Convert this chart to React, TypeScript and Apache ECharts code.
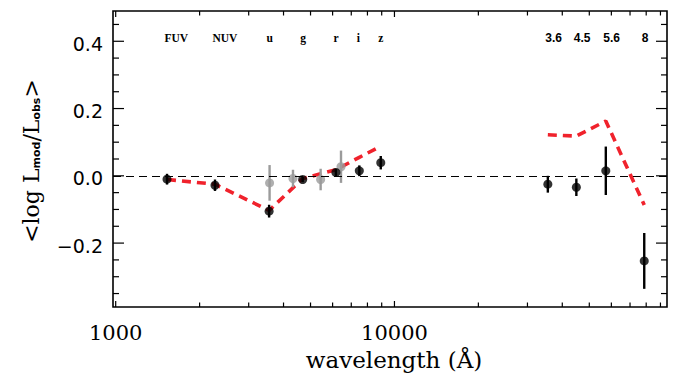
import React, { useEffect, useRef } from 'react';
import * as echarts from 'echarts';

// ---------- data ----------
const opticalBands = ['FUV', 'NUV', 'u', 'g', 'r', 'i', 'z'];
const opticalWave = [1528, 2271, 3551, 4686, 6165, 7481, 8931];
const opticalObs = [-0.010, -0.028, -0.105, -0.011, 0.010, 0.015, 0.039];
const opticalErr = [0.016, 0.017, 0.019, 0.008, 0.011, 0.016, 0.020];
const opticalModel = [-0.011, -0.025, -0.103, -0.008, 0.018, 0.055, 0.088];

const grayWave = [3565, 4325, 5435, 6431];
const grayObs = [-0.021, -0.008, -0.011, 0.027];
const grayErr = [0.053, 0.026, 0.032, 0.048];

const irBands = ['3.6', '4.5', '5.6', '8'];
const irWave = [35500, 44930, 57310, 78720];
const irObs = [-0.025, -0.034, 0.015, -0.253];
const irErr = [0.025, 0.026, 0.072, 0.083];
const irModel = [0.122, 0.118, 0.163, -0.087];

const xMajorTicks = [1000, 10000];
const xTickLabels = ['1000', '10000'];
const xMinorTicks = [2000, 3000, 4000, 5000, 6000, 7000, 8000, 9000, 20000, 30000, 40000, 50000, 60000, 70000, 80000, 90000];
const yMajorTicks = [-0.2, 0.0, 0.2, 0.4];
const yTickLabels = ['\u22120.2', '0.0', '0.2', '0.4'];
const yMinorTicks = [-0.35, -0.3, -0.25, -0.15, -0.1, -0.05, 0.05, 0.1, 0.15, 0.25, 0.3, 0.35, 0.45];

// ---------- axis config ----------
const X_MIN = 978;
const X_MAX = 95000;
const Y_MIN = -0.39;
const Y_MAX = 0.49;
const LABEL_Y = 0.4;

const RED = '#f0222c';
const GRAY = '#9b9b9b';
const SERIF = '"DejaVu Serif", serif';
const SANS = '"DejaVu Sans", sans-serif';

const xTickData = [
  ...xMajorTicks.map((v, i) => ({ v, major: true, label: xTickLabels[i] })),
  ...xMinorTicks.map((v) => ({ v, major: false, label: '' })),
];
const yTickData = [
  ...yMajorTicks.map((v, i) => ({ v, major: true, label: yTickLabels[i] })),
  ...yMinorTicks.map((v) => ({ v, major: false, label: '' })),
];
const bandLabels = [
  ...opticalBands.map((b, i) => ({ w: opticalWave[i], text: b, ir: false })),
  ...irBands.map((b, i) => ({ w: irWave[i], text: b, ir: true })),
];

const blackWave = [...opticalWave, ...irWave];
const blackObs = [...opticalObs, ...irObs];
const blackErr = [...opticalErr, ...irErr];

function errorSeries(name: string, wave: number[], obs: number[], err: number[], color: string) {
  return {
    name,
    type: 'custom',
    data: wave.map((w, i) => [w, obs[i], err[i]]),
    renderItem: (params: any, api: any) => {
      const w = api.value(0);
      const y = api.value(1);
      const e = api.value(2);
      const p1 = api.coord([w, y - e]);
      const p2 = api.coord([w, y + e]);
      return {
        type: 'line',
        shape: { x1: p1[0], y1: p1[1], x2: p2[0], y2: p2[1] },
        style: { stroke: color, lineWidth: 2.4 },
      };
    },
    silent: true,
  };
}

function buildOption() {
  return {
    animation: false,
    grid: {
      left: 113,
      right: 11,
      top: 11,
      bottom: 70,
      show: true,
      borderColor: '#000',
      borderWidth: 1.6,
      backgroundColor: 'transparent',
    },
    xAxis: {
      type: 'log',
      logBase: 10,
      min: X_MIN,
      max: X_MAX,
      axisLine: { show: false },
      axisTick: { show: false },
      axisLabel: { show: false },
      splitLine: { show: false },
    },
    yAxis: {
      type: 'value',
      min: Y_MIN,
      max: Y_MAX,
      axisLine: { show: false },
      axisTick: { show: false },
      axisLabel: { show: false },
      splitLine: { show: false },
    },
    graphic: [
      {
        type: 'text',
        x: 394,
        y: 360,
        style: {
          text: 'wavelength (\u00c5)',
          font: `23px ${SERIF}`,
          fill: '#000',
          align: 'center',
          verticalAlign: 'middle',
        },
      },
      {
        type: 'text',
        x: 29,
        y: 161,
        rotation: Math.PI / 2,
        style: {
          text: '{a|<log L}{s|mod}{a|/L}{s|obs}{a|>}',
          align: 'center',
          verticalAlign: 'middle',
          fill: '#000',
          rich: {
            a: { fontFamily: SERIF, fontSize: 22, fill: '#000', verticalAlign: 'bottom', lineHeight: 26 },
            s: { fontFamily: SANS, fontWeight: 'bold', fontSize: 11, fill: '#000', verticalAlign: 'bottom', lineHeight: 10 },
          },
        },
      },
    ],
    series: [
      {
        name: 'model optical',
        type: 'line',
        data: opticalWave.map((w, i) => [w, opticalModel[i]]),
        symbol: 'none',
        lineStyle: { color: RED, width: 3.6, type: [9, 6], cap: 'butt' },
        markLine: {
          silent: true,
          symbol: 'none',
          label: { show: false },
          lineStyle: { color: '#000', width: 1.2, type: [8, 5] },
          data: [{ yAxis: 0 }],
        },
        z: 2,
      },
      {
        name: 'model IR',
        type: 'line',
        data: irWave.map((w, i) => [w, irModel[i]]),
        symbol: 'none',
        lineStyle: { color: RED, width: 3.6, type: [9, 6], cap: 'butt' },
        z: 2,
      },
      { ...errorSeries('gray err', grayWave, grayObs, grayErr, GRAY), z: 3 },
      {
        name: 'gray obs',
        type: 'scatter',
        data: grayWave.map((w, i) => [w, grayObs[i]]),
        symbol: 'circle',
        symbolSize: 9,
        itemStyle: { color: GRAY },
        z: 3,
      },
      { ...errorSeries('black err', blackWave, blackObs, blackErr, '#000'), z: 4 },
      {
        name: 'black obs',
        type: 'scatter',
        data: blackWave.map((w, i) => [w, blackObs[i]]),
        symbol: 'circle',
        symbolSize: 9,
        itemStyle: { color: '#000' },
        z: 4,
      },
      {
        name: 'x ticks',
        type: 'custom',
        silent: true,
        data: xTickData.map((d) => [d.v, 0]),
        renderItem: (params: any, api: any) => {
          const d = xTickData[params.dataIndex];
          const px = api.coord([d.v, 0])[0];
          const cs = params.coordSys;
          const bottom = cs.y + cs.height;
          const len = d.major ? 6 : 4.5;
          const st = { stroke: '#000', lineWidth: 1.2 };
          const children: any[] = [
            { type: 'line', shape: { x1: px, y1: bottom, x2: px, y2: bottom - len }, style: st },
            { type: 'line', shape: { x1: px, y1: cs.y, x2: px, y2: cs.y + len }, style: st },
          ];
          if (d.major) {
            children.push({
              type: 'text',
              x: px,
              y: bottom + 26,
              style: { text: d.label, font: `21px ${SERIF}`, fill: '#000', align: 'center', verticalAlign: 'middle' },
            });
          }
          return { type: 'group', children };
        },
        z: 5,
      },
      {
        name: 'y ticks',
        type: 'custom',
        silent: true,
        data: yTickData.map((d) => [X_MIN, d.v]),
        renderItem: (params: any, api: any) => {
          const d = yTickData[params.dataIndex];
          const py = api.coord([X_MIN, d.v])[1];
          const cs = params.coordSys;
          const right = cs.x + cs.width;
          const len = d.major ? 11 : 6;
          const st = { stroke: '#000', lineWidth: 1.2 };
          const children: any[] = [
            { type: 'line', shape: { x1: cs.x, y1: py, x2: cs.x + len, y2: py }, style: st },
            { type: 'line', shape: { x1: right, y1: py, x2: right - len, y2: py }, style: st },
          ];
          if (d.major) {
            children.push({
              type: 'text',
              x: cs.x - 10,
              y: py + 2.5,
              style: { text: d.label, font: `19px ${SANS}`, fill: '#000', align: 'right', verticalAlign: 'middle' },
            });
          }
          return { type: 'group', children };
        },
        z: 5,
      },
      {
        name: 'band labels',
        type: 'custom',
        silent: true,
        data: bandLabels.map((b) => [b.w, LABEL_Y]),
        renderItem: (params: any, api: any) => {
          const b = bandLabels[params.dataIndex];
          const p = api.coord([b.w, LABEL_Y]);
          return {
            type: 'text',
            x: p[0] - 2.5,
            y: p[1] - 3,
            style: {
              text: b.text,
              font: b.ir ? `bold 12px "Liberation Sans", sans-serif` : `bold 11.5px "Liberation Serif", serif`,
              fill: '#000',
              align: 'left',
              verticalAlign: 'middle',
            },
          };
        },
        z: 5,
      },
    ],
  };
}

export default function App() {
  const ref = useRef<HTMLDivElement>(null);
  useEffect(() => {
    document.body.style.margin = '0';
    const chart = echarts.init(ref.current as HTMLDivElement, undefined, { renderer: 'svg' });
    chart.setOption(buildOption() as any);
    return () => chart.dispose();
  }, []);
  return <div ref={ref} style={{ width: 678, height: 377, position: 'absolute', left: 0, top: 0, background: '#fff' }} />;
}
